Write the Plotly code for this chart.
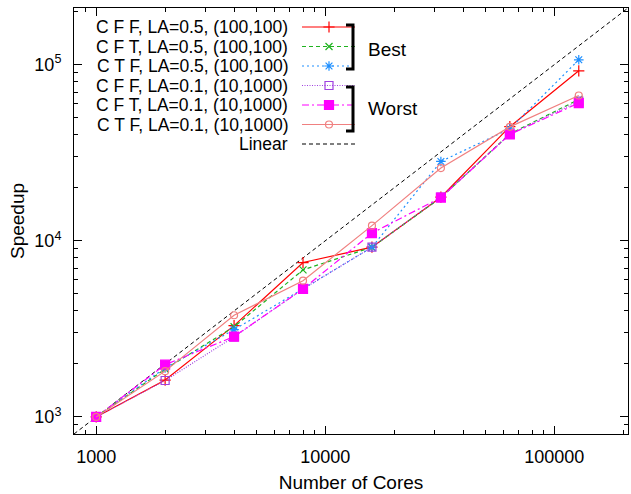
import plotly.graph_objects as go

# ---------------- data ----------------
cores = [1000, 2000, 4000, 8000, 16000, 32000, 64000, 128000]
cff_05 = [1000, 1620, 3300, 7530, 9200, 17700, 44500, 92400]
cft_05 = [1000, 1870, 3250, 6840, 9200, 17600, 40500, 63500]
ctf_05 = [1000, 1900, 3130, 5335, 9200, 28230, 43300, 106700]
cff_01 = [1000, 1610, 2850, 5335, 9200, 17700, 40300, 62100]
cft_01 = [1000, 1980, 2860, 5335, 11060, 17600, 40200, 60600]
ctf_01 = [1000, 1820, 3780, 5940, 12200, 25880, 44400, 66900]
linear_x = [800, 210000]
linear_y = [800, 210000]

labels = ["C F F, LA=0.5, (100,100)", "C F T, LA=0.5, (100,100)",
          "C T F, LA=0.5, (100,100)", "C F F, LA=0.1, (10,1000)",
          "C F T, LA=0.1, (10,1000)", "C T F, LA=0.1, (10,1000)", "Linear"]
series = [cff_05, cft_05, ctf_05, cff_01, cft_01, ctf_01]
colors = ["#ff0000", "#1fb31f", "#1e8fff", "#a040e0", "#ff00ff", "#f08080", "#000000"]
dashes = ["solid", "4px,3px", "2px,3px", "1px,1.5px", "7px,3px,2px,3px", "solid", "4px,3px"]
symbols = ["cross-thin", "x-thin", "asterisk", "square-open", "square", "circle-open", None]
msizes = [8, 7, 8, 8, 9, 7, 0]

x_tick_vals = [1000, 10000, 100000]
x_tick_text = ["1000", "10000", "100000"]
y_tick_vals = [1000, 10000, 100000]
y_tick_text = ["10<sup>3</sup>", "10<sup>4</sup>", "10<sup>5</sup>"]
minor_vals = [900] + [m * 10 ** e for e in (3, 4) for m in range(2, 10)] + [200000]

FONT = "Liberation Sans, Arial, sans-serif"

fig = go.Figure()

# Linear reference
fig.add_trace(go.Scatter(x=linear_x, y=linear_y, mode="lines",
                         line=dict(color=colors[6], width=1, dash=dashes[6]),
                         showlegend=False, hoverinfo="skip"))

for i, ys in enumerate(series):
    fig.add_trace(go.Scatter(
        x=cores, y=ys, mode="lines+markers",
        line=dict(color=colors[i], width=1.2, dash=dashes[i]),
        marker=dict(symbol=symbols[i], size=msizes[i], color=colors[i],
                    line=dict(color=colors[i], width=1.2)),
        showlegend=False, hoverinfo="skip"))

# ---------------- custom gnuplot-like legend on a pixel overlay ----------------
L, R, T, B = 74, 628, 8, 434
row_y = [27, 46.5, 66, 85.5, 105, 124.5, 144]
text_right = 290
sample_x0, sample_x1, mark_x = 302, 355, 329

for i, lab in enumerate(labels):
    y = row_y[i]
    fig.add_trace(go.Scatter(x=[sample_x0, sample_x1], y=[y, y], mode="lines",
                             xaxis="x2", yaxis="y2",
                             line=dict(color=colors[i], width=1.2, dash=dashes[i]),
                             showlegend=False, hoverinfo="skip"))
    if symbols[i]:
        fig.add_trace(go.Scatter(x=[mark_x], y=[y], mode="markers",
                                 xaxis="x2", yaxis="y2",
                                 marker=dict(symbol=symbols[i], size=msizes[i], color=colors[i],
                                             line=dict(color=colors[i], width=1.2)),
                                 showlegend=False, hoverinfo="skip"))
    fig.add_annotation(x=text_right, y=y, xref="x2", yref="y2", text=lab,
                       xanchor="right", yanchor="middle", showarrow=False,
                       font=dict(family=FONT, size=17.5, color="black"))

# brackets
for (y0, y1) in [(25, 69), (87, 131)]:
    fig.add_shape(type="path", xref="x2", yref="y2",
                  path=f"M 346 {y0} L 353 {y0} L 353 {y1} L 346 {y1}",
                  line=dict(color="black", width=3))
fig.add_annotation(x=366, y=49, xref="x2", yref="y2", text="Best", xanchor="left",
                   yanchor="middle", showarrow=False, font=dict(family=FONT, size=19, color="black"))
fig.add_annotation(x=366, y=108, xref="x2", yref="y2", text="Worst", xanchor="left",
                   yanchor="middle", showarrow=False, font=dict(family=FONT, size=19, color="black"))

axis_common = dict(type="log", range=[2.90309, 5.3222], showgrid=False, zeroline=False,
                   showline=True, linecolor="black", linewidth=1, mirror="ticks",
                   ticks="inside", ticklen=8, tickcolor="black", tickwidth=1,
                   tickfont=dict(family=FONT, size=18, color="black"),
                   minor=dict(ticks="inside", ticklen=4, tickcolor="black",
                              tickvals=minor_vals, showgrid=False))

fig.update_layout(
    width=631, height=494,
    margin=dict(l=L, r=631 - R, t=T, b=494 - B),
    paper_bgcolor="white", plot_bgcolor="white",
    font=dict(family=FONT, size=18, color="black"),
    xaxis=dict(**axis_common, tickvals=x_tick_vals, ticktext=x_tick_text,
               ticklabelstandoff=6,
               title=dict(text="Number of Cores", font=dict(family=FONT, size=19), standoff=10)),
    yaxis=dict(**axis_common, tickvals=y_tick_vals, ticktext=y_tick_text,
               ticklabelstandoff=8,
               title=dict(text="Speedup", font=dict(family=FONT, size=19), standoff=4)),
    xaxis2=dict(range=[L, R], overlaying="x", visible=False, fixedrange=True),
    yaxis2=dict(range=[B, T], overlaying="y", visible=False, fixedrange=True),
)

fig.write_html("out.html")
